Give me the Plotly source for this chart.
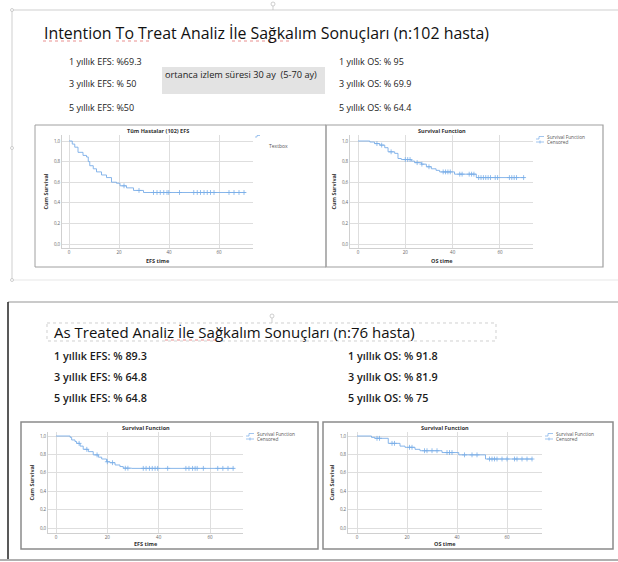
import plotly.graph_objects as go

W, H = 618, 562
def X(p): return p / W
def Y(p): return 1 - p / H

# ---------------- data ----------------
# Intention-to-treat EFS (n=102)
itt_efs_t = [0, 1.3, 2.3, 3.6, 5.6, 7.0, 7.7, 8.3, 9.7, 11.0, 13.0, 15.0, 17.0, 19.0, 20.4, 23.0, 25.8, 29.8, 70.7]
itt_efs_s = [1.0, 0.97, 0.94, 0.89, 0.86, 0.845, 0.80, 0.76, 0.73, 0.70, 0.67, 0.645, 0.60, 0.59, 0.565, 0.545, 0.52, 0.50, 0.50]
itt_efs_c = [22, 28, 33.8, 35.2, 36.5, 37.9, 39.2, 39.9, 44.2, 49.9, 51.3, 52.6, 54, 55.3, 56.6, 58, 64, 66, 68, 70]

# Intention-to-treat OS (n=102)
itt_os_t = [0, 5.0, 7.0, 9.2, 11.3, 12.7, 15.5, 16.9, 18.3, 22.5, 23.9, 26.8, 28.9, 31.0, 33.0, 34.5, 40.8, 50.0, 70.4]
itt_os_s = [1.0, 0.99, 0.975, 0.96, 0.935, 0.895, 0.88, 0.83, 0.82, 0.805, 0.79, 0.775, 0.75, 0.73, 0.715, 0.70, 0.678, 0.645, 0.645]
itt_os_c = [8, 10, 14, 20, 21, 22, 25, 27, 30, 36, 37, 38, 39, 43, 44, 47, 48, 49, 51, 52, 53, 54, 55, 56, 58, 59, 64, 65, 66, 67, 70]

# As-treated EFS (n=76)
at_efs_t = [0, 5.5, 6.1, 7.4, 8.0, 9.4, 10.6, 12.6, 14.5, 16.5, 17.8, 19.7, 21.0, 23.0, 24.9, 26.2, 29.5, 69.5]
at_efs_s = [1.0, 0.985, 0.957, 0.94, 0.92, 0.89, 0.855, 0.83, 0.795, 0.77, 0.75, 0.72, 0.71, 0.685, 0.668, 0.65, 0.648, 0.648]
at_efs_c = [9, 12, 16, 20, 22, 27, 28, 34, 35.1, 36.4, 37.5, 38.6, 39.6, 43.5, 50.6, 51.8, 53.2, 54.2, 55, 57.4, 63, 65, 67, 69]

# As-treated OS (n=76)
at_os_t = [0, 5.8, 7.1, 12.5, 17.2, 19.2, 23.2, 25.2, 34.0, 40.7, 51.4, 70.2]
at_os_s = [1.0, 0.985, 0.975, 0.92, 0.89, 0.877, 0.855, 0.84, 0.82, 0.795, 0.75, 0.75]
at_os_c = [8, 9, 14, 15, 21, 22, 27, 28, 30, 32, 36, 37, 38, 43, 46, 48, 53, 54, 55, 56, 58, 60, 63, 64, 66, 68, 70]

x_ticks = [0, 20, 40, 60]
y_ticks = [0.0, 0.2, 0.4, 0.6, 0.8, 1.0]
y_ticktext = ["0,0", "0,2", "0,4", "0,6", "0,8", "1,0"]

title_top = "Intention To Treat Analiz İle Sağkalım Sonuçları (n:102 hasta)"
title_bot = "As Treated Analiz İle Sağkalım Sonuçları (n:76 hasta)"
stats_top_left = ["1 yıllık EFS: %69.3", "3 yıllık EFS: % 50", "5 yıllık EFS: %50"]
stats_top_right = ["1 yıllık OS: % 95", "3 yıllık OS: % 69.9", "5 yıllık OS: % 64.4"]
stats_bot_left = ["1 yıllık EFS: % 89.3", "3 yıllık EFS: % 64.8", "5 yıllık EFS: % 64.8"]
stats_bot_right = ["1 yıllık OS: % 91.8", "3 yıllık OS: % 81.9", "5 yıllık OS: % 75"]
followup = "ortanca izlem süresi 30 ay  (5-70 ay)"

panels = [
    dict(t=itt_efs_t, s=itt_efs_s, c=itt_efs_c, title="Tüm Hastalar (102) EFS", xt="EFS time",
         px=(62, 253), py=(135, 248), x0=69, ppu=2.5, y1=141, y0=244, legend=False, xtoff=13),
    dict(t=itt_os_t, s=itt_os_s, c=itt_os_c, title="Survival Function", xt="OS time",
         px=(350, 533), py=(135, 248), x0=358, ppu=2.366, y1=141, y0=244, legend=True, xtoff=13),
    dict(t=at_efs_t, s=at_efs_s, c=at_efs_c, title="Survival Function", xt="EFS time",
         px=(48, 243), py=(432, 533), x0=56, ppu=2.567, y1=436, y0=528, legend=True, xtoff=11),
    dict(t=at_os_t, s=at_os_s, c=at_os_c, title="Survival Function", xt="OS time",
         px=(348, 542), py=(432, 533), x0=357, ppu=2.5, y1=436, y0=528, legend=True, xtoff=11),
]

CURVE = "#7aaee8"
FONT = "Open Sans"
fig = go.Figure()
annotations = []
shapes = []

def ann(x, y, text, size, color="#222", xanchor="left", angle=0, weight="normal"):
    annotations.append(dict(x=X(x), y=Y(y), text=text, showarrow=False, xanchor=xanchor, yanchor="middle",
                            xref="paper", yref="paper", textangle=angle,
                            font=dict(size=size, color=color, family=FONT, weight=weight)))

def surv_at(t, ts, ss):
    v = ss[0]
    for ti, si in zip(ts, ss):
        if ti <= t:
            v = si
    return v

for i, p in enumerate(panels):
    n = "" if i == 0 else str(i + 1)
    xa, ya = "x" + n, "y" + n
    fig.add_trace(go.Scatter(x=p["t"], y=p["s"], mode="lines", line=dict(color=CURVE, width=0.9, shape="hv"),
                             xaxis=xa, yaxis=ya, showlegend=False, hoverinfo="skip"))
    cy = [surv_at(c, p["t"], p["s"]) for c in p["c"]]
    fig.add_trace(go.Scatter(x=p["c"], y=cy, mode="markers",
                             marker=dict(symbol="cross-thin", size=3.5, line=dict(color=CURVE, width=0.8)),
                             xaxis=xa, yaxis=ya, showlegend=False, hoverinfo="skip"))
    xr = [(p["px"][0] - p["x0"]) / p["ppu"], (p["px"][1] - p["x0"]) / p["ppu"]]
    yppu = (p["y0"] - p["y1"])
    yr = [(p["y0"] - p["py"][1]) / yppu, (p["y0"] - p["py"][0]) / yppu]
    fig.layout["xaxis" + n] = dict(domain=[X(p["px"][0]), X(p["px"][1])], range=xr, anchor=ya,
                                   tickvals=x_ticks, gridcolor="#dedede", gridwidth=0.8, zeroline=False,
                                   showline=True, linecolor="#d0d0d0", linewidth=0.8,
                                   tickfont=dict(size=4.5, color="#666"), ticks="", fixedrange=True)
    fig.layout["yaxis" + n] = dict(domain=[Y(p["py"][1]), Y(p["py"][0])], range=yr, anchor=xa,
                                   tickvals=y_ticks, ticktext=y_ticktext, gridcolor="#dedede", gridwidth=0.8,
                                   zeroline=False, showline=True, linecolor="#d0d0d0", linewidth=0.8,
                                   tickfont=dict(size=4.5, color="#666"), ticks="", fixedrange=True)
    cx = (p["px"][0] + p["px"][1]) / 2
    ann(cx, p["py"][0] - 4, "<b>" + p["title"] + "</b>", 5.5, "#333", "center")
    ann(cx, p["py"][1] + p["xtoff"], "<b>" + p["xt"] + "</b>", 5.5, "#333", "center")
    ann(p["px"][0] - 17, (p["py"][0] + p["py"][1]) / 2, "<b>Cum Survival</b>", 5.5, "#333", "center", -90)
    if p["legend"]:
        lx = p["px"][1] + 3
        ly = p["py"][0] + 2
        shapes.append(dict(type="path", xref="paper", yref="paper",
                           path=f"M {X(lx)} {Y(ly+2)} L {X(lx+3)} {Y(ly+2)} L {X(lx+3)} {Y(ly-0.5)} L {X(lx+8)} {Y(ly-0.5)}",
                           line=dict(color=CURVE, width=0.7)))
        shapes.append(dict(type="line", xref="paper", yref="paper", x0=X(lx), x1=X(lx+8), y0=Y(ly+5), y1=Y(ly+5),
                           line=dict(color=CURVE, width=0.7)))
        shapes.append(dict(type="line", xref="paper", yref="paper", x0=X(lx+4), x1=X(lx+4), y0=Y(ly+3.5), y1=Y(ly+6.5),
                           line=dict(color=CURVE, width=0.7)))
        ann(lx + 9, ly, "Survival Function", 4.8, "#555")
        ann(lx + 9, ly + 5, "Censored", 4.8, "#555")

# textbox remnant on first chart
ann(267, 146, "Textbox", 5, "#555")
shapes.append(dict(type="path", xref="paper", yref="paper",
                   path=f"M {X(255)} {Y(137)} L {X(257)} {Y(137)} L {X(257)} {Y(135.5)} L {X(260)} {Y(135.5)}",
                   line=dict(color=CURVE, width=0.7)))

# chart frames
for (x0, y0, x1, y1, w, c) in [(35, 125, 326, 267, 1, "#a0a0a0"), (326, 125, 603, 267, 1.2, "#a0a0a0"),
                               (21, 422, 318, 549, 1.5, "#8a8a8a"), (323, 422, 613, 549, 1.5, "#8a8a8a")]:
    shapes.append(dict(type="rect", xref="paper", yref="paper", x0=X(x0), x1=X(x1), y0=Y(y0), y1=Y(y1),
                       line=dict(color=c, width=w)))

# slide frames
shapes += [
    dict(type="line", xref="paper", yref="paper", x0=X(12), x1=X(618), y0=Y(10), y1=Y(10), line=dict(color="#cfcfcf", width=1)),
    dict(type="line", xref="paper", yref="paper", x0=X(12), x1=X(12), y0=Y(10), y1=Y(280), line=dict(color="#cfcfcf", width=1)),
    dict(type="line", xref="paper", yref="paper", x0=X(12), x1=X(618), y0=Y(280), y1=Y(280), line=dict(color="#e8e8e8", width=1.2)),
    dict(type="line", xref="paper", yref="paper", x0=X(8), x1=X(618), y0=Y(302), y1=Y(302), line=dict(color="#b8b8b8", width=1.5)),
    dict(type="line", xref="paper", yref="paper", x0=X(8), x1=X(8), y0=Y(302), y1=Y(560), line=dict(color="#222", width=1.5)),
    dict(type="line", xref="paper", yref="paper", x0=X(0), x1=X(618), y0=Y(560), y1=Y(560), line=dict(color="#b0b0b0", width=2)),
    # grey box
    dict(type="rect", xref="paper", yref="paper", x0=X(162), x1=X(325), y0=Y(67), y1=Y(94), fillcolor="#e3e3e3", line=dict(width=0)),
    # handle circles
    dict(type="circle", xref="paper", yref="paper", x0=X(10.5), x1=X(13.5), y0=Y(8.5), y1=Y(11.5), line=dict(color="#bbb", width=0.7), fillcolor="white"),
    dict(type="circle", xref="paper", yref="paper", x0=X(10.5), x1=X(13.5), y0=Y(278.5), y1=Y(281.5), line=dict(color="#bbb", width=0.7), fillcolor="white"),
    dict(type="circle", xref="paper", yref="paper", x0=X(10.5), x1=X(13.5), y0=Y(146.5), y1=Y(149.5), line=dict(color="#bbb", width=0.7), fillcolor="white"),
    dict(type="circle", xref="paper", yref="paper", x0=X(271), x1=X(275), y0=Y(2), y1=Y(6), line=dict(color="#bbb", width=0.7), fillcolor="white"),
    dict(type="line", xref="paper", yref="paper", x0=X(273), x1=X(273), y0=Y(6), y1=Y(10), line=dict(color="#bbb", width=0.7)),
    # dotted title box (bottom)
    dict(type="rect", xref="paper", yref="paper", x0=X(47), x1=X(496), y0=Y(323), y1=Y(341), line=dict(color="#bbb", width=0.7, dash="dot")),
    dict(type="circle", xref="paper", yref="paper", x0=X(270), x1=X(274), y0=Y(314), y1=Y(318), line=dict(color="#bbb", width=0.7), fillcolor="white"),
    dict(type="line", xref="paper", yref="paper", x0=X(272), x1=X(272), y0=Y(318), y1=Y(323), line=dict(color="#bbb", width=0.7)),
]
# spell-check underlines (top title / bottom title)
for (a, b, yy) in [(43, 82, 41), (116, 152, 41), (232, 290, 41), (165, 218, 340)]:
    shapes.append(dict(type="line", xref="paper", yref="paper", x0=X(a), x1=X(b), y0=Y(yy), y1=Y(yy),
                       line=dict(color="#e06060", width=0.7, dash="dot")))

ann(42, 33, title_top, 15.9, "#111")
ann(52, 332, title_bot, 15, "#111")
for k, yy in enumerate([62, 84, 107]):
    ann(67, yy, stats_top_left[k], 9, "#222")
    ann(337, yy, stats_top_right[k], 9, "#222")
for k, yy in enumerate([355, 376, 397]):
    ann(52, yy, stats_bot_left[k], 10.8, "#1a1a1a", weight=600)
    ann(346, yy, stats_bot_right[k], 10.8, "#1a1a1a", weight=600)
ann(163, 75, followup, 9.2, "#222")

fig.update_layout(width=W, height=H, margin=dict(l=0, r=0, t=0, b=0), paper_bgcolor="white", plot_bgcolor="white",
                  annotations=annotations, shapes=shapes, showlegend=False)
fig.write_html("out.html", post_script="document.body.style.margin='0px';",
               config={"displayModeBar": False})
